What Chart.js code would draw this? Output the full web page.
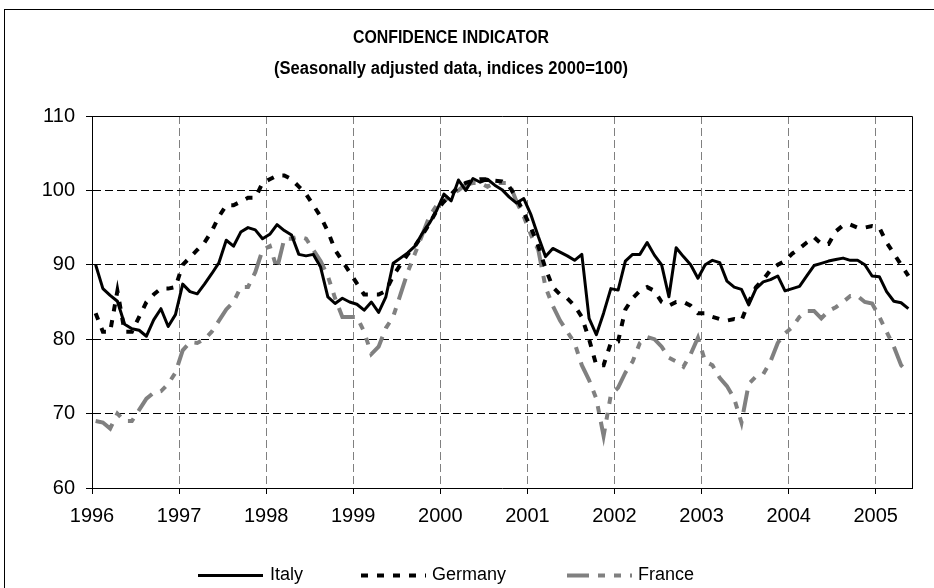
<!DOCTYPE html>
<html>
<head>
<meta charset="utf-8">
<script src="https://cdn.jsdelivr.net/npm/chart.js@4"></script>
<style>
  body { margin: 0; background: #fff; }
</style>
</head>
<body>
<canvas id="myChart" width="934" height="588"></canvas>
<script>
// monthly values, Jan 1996 - May 2005
const years = ["1996", "1997", "1998", "1999", "2000", "2001", "2002", "2003", "2004", "2005"];

const italy = [
    90, 86.8, 85.9, 85.1, 82, 81.4, 81.2, 80.4, 82.6, 84.1, 81.7, 83.3,
    87.4, 86.4, 86.1, 87.4, 88.8, 90.3, 93.3, 92.5, 94.4, 95, 94.7, 93.5,
    94.1, 95.4, 94.6, 94, 91.4, 91.2, 91.4, 89.7, 85.7, 84.8, 85.5, 85,
    84.7, 83.9, 85, 83.6, 85.7, 90.2, 90.9, 91.6, 92.5, 94.2, 95.6, 97.3,
    99.5, 98.6, 101.4, 100, 101.6, 101.1, 101.5, 100.7, 100.1, 99.1, 98.3, 98.9,
    96.7, 93.8, 91.1, 92.2, 91.7, 91.2, 90.6, 91.4, 82.8, 80.6, 83.5, 86.8,
    86.6, 90.5, 91.4, 91.4, 93, 91.3, 90, 85.7, 92.3, 91.1, 90, 88.2,
    90, 90.6, 90.3, 87.8, 87, 86.7, 84.6, 86.8, 87.7, 88, 88.5, 86.5,
    86.8, 87.1, 88.5, 89.9, 90.2, 90.5, 90.7, 90.9, 90.6, 90.6, 90, 88.5,
    88.4, 86.4, 85.1, 84.9, 84.1
];

const germany = [
    83.5, 81, 81, 86.5, 81, 81, 83, 85, 86, 86.8, 86.8, 87,
    90, 91, 92, 93, 94.5, 96.5, 98, 98, 98.5, 99, 99, 101,
    101.5, 102, 102, 101.5, 100.5, 99.5, 98, 96.5, 94.5, 92, 90.5, 89,
    87.5, 86, 86, 86, 86.5, 88.5, 90, 91.4, 92.5, 94, 95.5, 97.3,
    98.5, 99.5, 100.5, 101, 101.3, 101.5, 101.5, 101.3, 101.2, 100.5, 99, 97,
    95, 92.5, 89.5, 87, 86, 85.5, 84.5, 83, 80, 76.5, 76.5, 79.5,
    79.7, 84, 85.5, 86.5, 87, 86.5, 85, 84.5, 85, 85, 84.5, 83.5,
    83.5, 83, 82.7, 82.5, 82.7, 82.5, 85, 87, 88, 89.3, 90, 90.5,
    91.5, 92.2, 93, 93.7, 92.8, 92.8, 94.5, 95.3, 95.4, 95, 95, 95.2,
    95, 93, 91.5, 90, 88.5
];

const france = [
    69, 68.8, 68, 70, 69, 69, 70.5, 72, 72.8, 73, 74, 75.5,
    78.5, 79.6, 79.5, 80, 81, 82.5, 84, 85, 87, 87, 89, 92,
    92.5, 89.5, 93.5, 93.5, 93.8, 93.5, 92, 90.5, 88.5, 85.5, 83, 83,
    83, 81, 78, 79, 81.5, 83, 86, 89, 91.5, 94, 96.5, 98,
    98.5, 99.5, 100, 100.8, 101, 101, 100.5, 101, 101, 101, 98.5, 96.5,
    94, 92, 87, 84.5, 82.5, 81, 79.5, 76.5, 74.5, 72, 67, 72.5,
    73.5, 75.5, 77, 79.5, 80.3, 80, 79, 77.5, 77, 76.3, 78, 80.2,
    77, 76.5, 74.8, 73.7, 72, 68.8, 74, 75, 75.3, 77, 79.5, 80.8,
    81.6, 83, 83.8, 83.8, 82.8, 83.8, 84.3, 85, 85.8, 85.8, 85, 84.8,
    83, 81, 79, 76.5, 75.5
];

const FONT = "'Liberation Sans', Arial, sans-serif";

// months sit in the middle of their slot, Jan 1996 = slot 0
const toPoints = arr => arr.map((v, i) => ({ x: i + 0.5, y: v }));

// title, legend, plot box and outer frame
const decor = {
    id: "decor",
    beforeDraw(chart) {
        const ctx = chart.ctx;
        ctx.save();
        ctx.fillStyle = "#fff";
        ctx.fillRect(0, 0, chart.width, chart.height);
        ctx.restore();
    },
    afterDraw(chart) {
        const ctx = chart.ctx;
        const a = chart.chartArea;
        ctx.save();
        ctx.strokeStyle = "#000";
        ctx.lineWidth = 1;
        ctx.beginPath();
        ctx.moveTo(a.left, Math.round(a.top) + 0.5);
        ctx.lineTo(Math.round(a.right) + 0.5, Math.round(a.top) + 0.5);
        ctx.lineTo(Math.round(a.right) + 0.5, a.bottom);
        ctx.stroke();
        ctx.strokeRect(4.5, 9.5, 1000, 1000);

        // title lines, squeezed a bit like the original
        const fit = (text, cx, cy, w) => {
            ctx.font = "bold 18px " + FONT;
            const m = ctx.measureText(text).width;
            ctx.save();
            ctx.translate(cx, cy);
            ctx.scale(Math.min(1, w / m), 1);
            ctx.textAlign = "center";
            ctx.textBaseline = "middle";
            ctx.fillStyle = "#000";
            ctx.fillText(text, 0, 0);
            ctx.restore();
        };
        fit("CONFIDENCE INDICATOR", 451, 38, 196);
        fit("(Seasonally adjusted data, indices 2000=100)", 451, 69, 354);

        // legend
        const sx = [198, 361, 567];
        const tx = [270, 432, 638];
        const ly = 575.5;
        chart.data.datasets.forEach((ds, i) => {
            ctx.save();
            ctx.strokeStyle = ds.borderColor;
            ctx.lineWidth = ds.borderWidth;
            ctx.setLineDash(ds.borderDash || []);
            ctx.beginPath();
            ctx.moveTo(sx[i], ly);
            ctx.lineTo(sx[i] + 65, ly);
            ctx.stroke();
            ctx.restore();
            ctx.font = "18px " + FONT;
            ctx.fillStyle = "#000";
            ctx.textAlign = "left";
            ctx.textBaseline = "middle";
            ctx.fillText(ds.label, tx[i], ly);
        });
        ctx.restore();
    }
};

const ctx = document.getElementById("myChart").getContext("2d");

new Chart(ctx, {
    type: "line",
    data: {
        datasets: [{
            label: "Italy",
            data: toPoints(italy),
            borderColor: "#000",
            borderWidth: 3,
            borderJoinStyle: "round"
        }, {
            label: "Germany",
            data: toPoints(germany),
            borderColor: "#000",
            borderWidth: 4,
            borderDash: [7, 9]
        }, {
            label: "France",
            data: toPoints(france),
            borderColor: "#808080",
            borderWidth: 4,
            borderDash: [22, 9, 7, 9, 7, 9]
        }]
    },
    options: {
        responsive: false,
        animation: false,
        devicePixelRatio: 1,
        elements: {
            point: { radius: 0 },
            line: { tension: 0, fill: false }
        },
        layout: {
            padding: { top: 116, right: 22, bottom: 40, left: 0 }
        },
        plugins: {
            legend: { display: false },
            title: { display: false },
            tooltip: { enabled: false }
        },
        scales: {
            x: {
                type: "linear",
                min: 0,
                max: 113,
                afterBuildTicks: scale => {
                    scale.ticks = years.map((y, i) => ({ value: i * 12 }));
                },
                afterFit: scale => { scale.height = 60; },
                ticks: {
                    autoSkip: false,
                    maxRotation: 0,
                    padding: 10,
                    color: "#000",
                    font: { family: FONT, size: 20 },
                    callback: (v, i) => years[i]
                },
                grid: {
                    color: c => (c.tick && c.tick.value === 0) ? "rgba(0,0,0,0)" : "#808080",
                    tickColor: "#000",
                    tickLength: 6
                },
                border: { color: "#000", width: 1, dash: [8, 4] }
            },
            y: {
                min: 60,
                max: 110,
                afterFit: scale => { scale.width = 92; },
                ticks: {
                    stepSize: 10,
                    padding: 11,
                    color: "#000",
                    font: { family: FONT, size: 20 }
                },
                grid: {
                    color: c => (c.tick && (c.tick.value === 60 || c.tick.value === 110)) ? "rgba(0,0,0,0)" : "#000",
                    tickColor: "#000",
                    tickLength: 6
                },
                border: { color: "#000", width: 1, dash: [8, 4] }
            }
        }
    },
    plugins: [decor]
});
</script>
</body>
</html>
